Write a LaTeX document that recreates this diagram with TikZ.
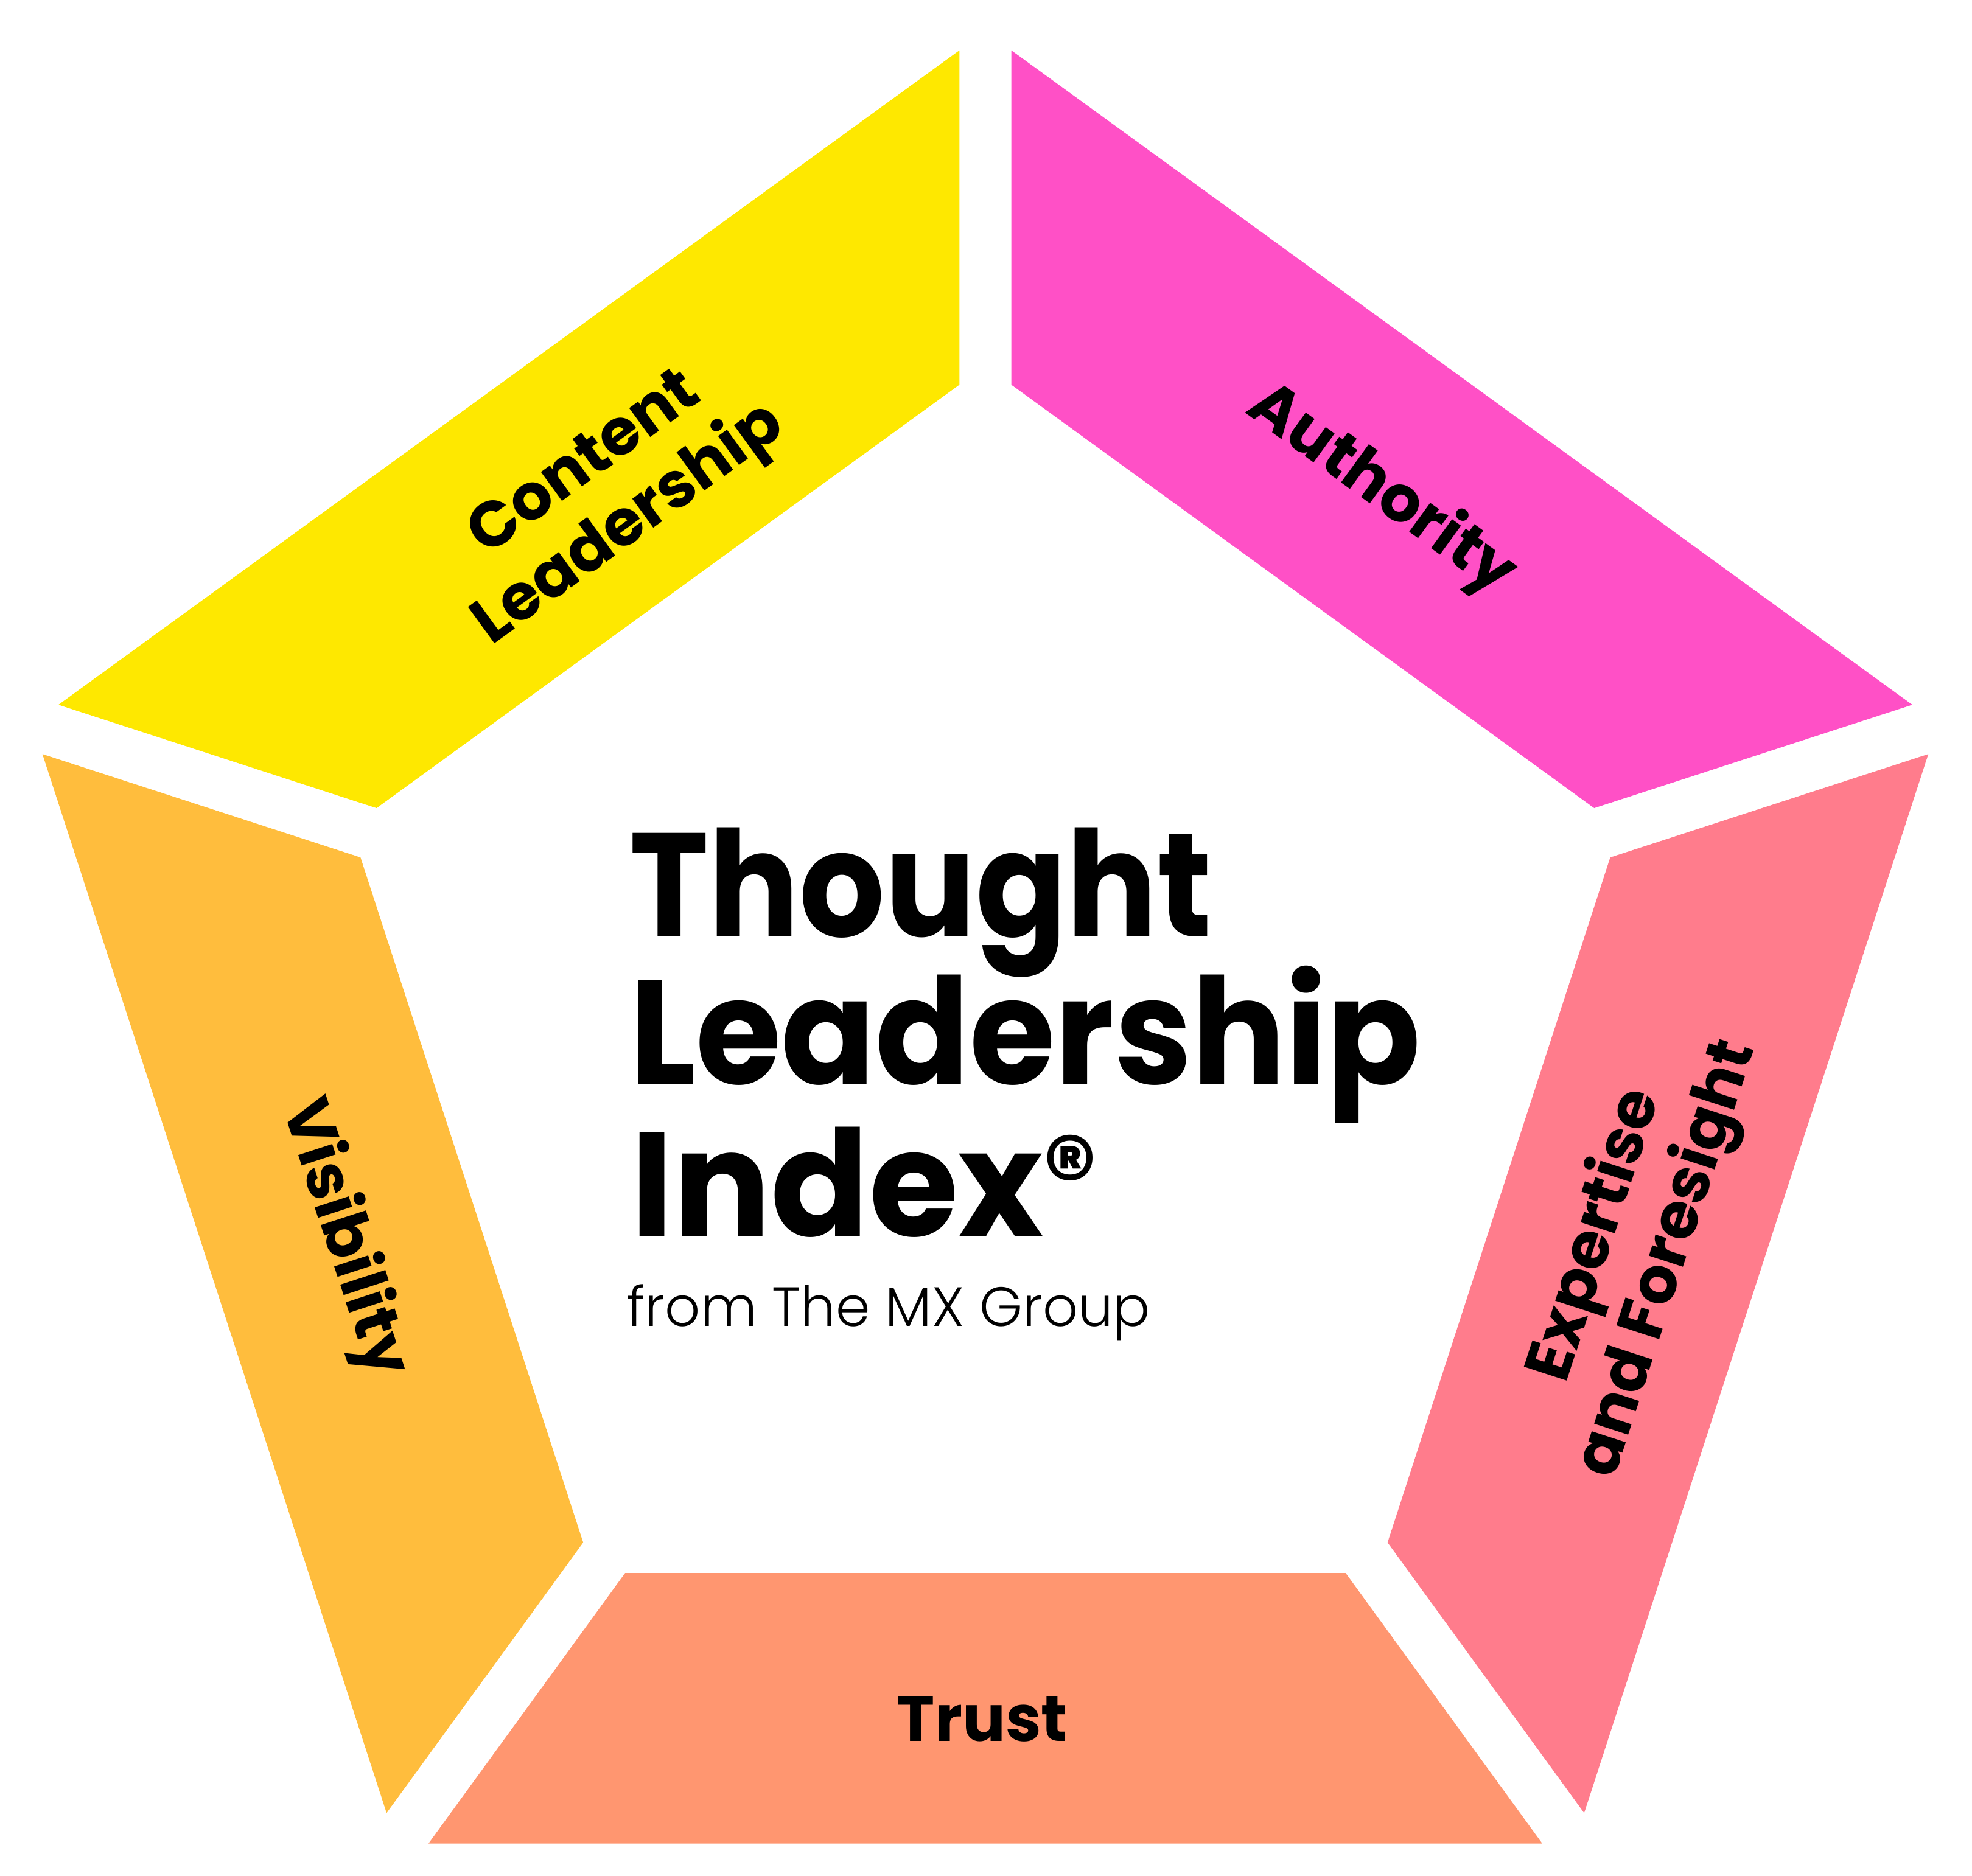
\documentclass[tikz,border=0pt]{standalone}
\usepackage{fontspec}
\setmainfont{Poppins}
\newfontfamily\lightfont{Poppins Light}
\usepackage{xcolor}
\usetikzlibrary{calc}

\definecolor{tlyellow}{HTML}{FEE800}
\definecolor{tlmagenta}{HTML}{FF50C6}
\definecolor{tlpink}{HTML}{FF7C8C}
\definecolor{tltrust}{HTML}{FF9670}
\definecolor{tlorange}{HTML}{FFBD3D}

\begin{document}
\begin{tikzpicture}[
  x=0.1mm, y=0.1mm,
  seg/.style={fill=#1, draw=none},
  lbl/.style={font=\fontsize{14.5}{17}\selectfont\bfseries, align=center, inner sep=0pt},
  title/.style={font=\fontsize{33.4}{34}\selectfont\bfseries, anchor=base west, inner sep=0pt},
  sub/.style={font=\fontsize{12.5}{14}\selectfont\lightfont, anchor=base west, inner sep=0pt}
]
\useasboundingbox (0,0) rectangle (1568,1492);
\coordinate (ctr) at (783.5,670.3);
\foreach \i in {0,...,4} {
  \coordinate (out\i) at ($(ctr)+({90-72*\i}:796.6)$);
  \coordinate (in\i) at ($(ctr)+({90-72*\i}:530.7)$);
}
\foreach \a/\b/\col in {0/1/tlmagenta, 1/2/tlpink, 2/3/tltrust, 3/4/tlorange, 4/0/tlyellow}
  \fill[seg=\col] ($(out\a)!2.55mm!(out\b)$) -- ($(out\b)!2.55mm!(out\a)$)
    -- ($(in\b)!2.55mm!(in\a)$) -- ($(in\a)!2.55mm!(in\b)$) -- cycle;

\node[lbl, rotate=36] (content) at (484,1097) {Content\\Leadership};
\node[lbl, rotate=-36] (authority) at (1098,1102) {Authority};
\node[lbl, rotate=72] (expertise) at (1298,500) {Expertise\\and Foresight};
\node[lbl] (trust) at (781,125) {Trust};
\node[lbl, rotate=-72] (visibility) at (273,507) {Visibility};

\node[title, xscale=0.91] (thought) at (500,747) {Thought};
\node[title, xscale=0.94] (leadership) at ($(thought.base west)+(0,-117)$) {Leadership};
\node[title, xscale=0.98] (index) at ($(leadership.base west)+(1,-121)$)
  {Index{\fontsize{24}{24}\selectfont\raisebox{2mm}{®}}};
\node[sub] (group) at ($(index.base west)+(-3,-72)$) {from The MX Group};
\end{tikzpicture}
\end{document}
